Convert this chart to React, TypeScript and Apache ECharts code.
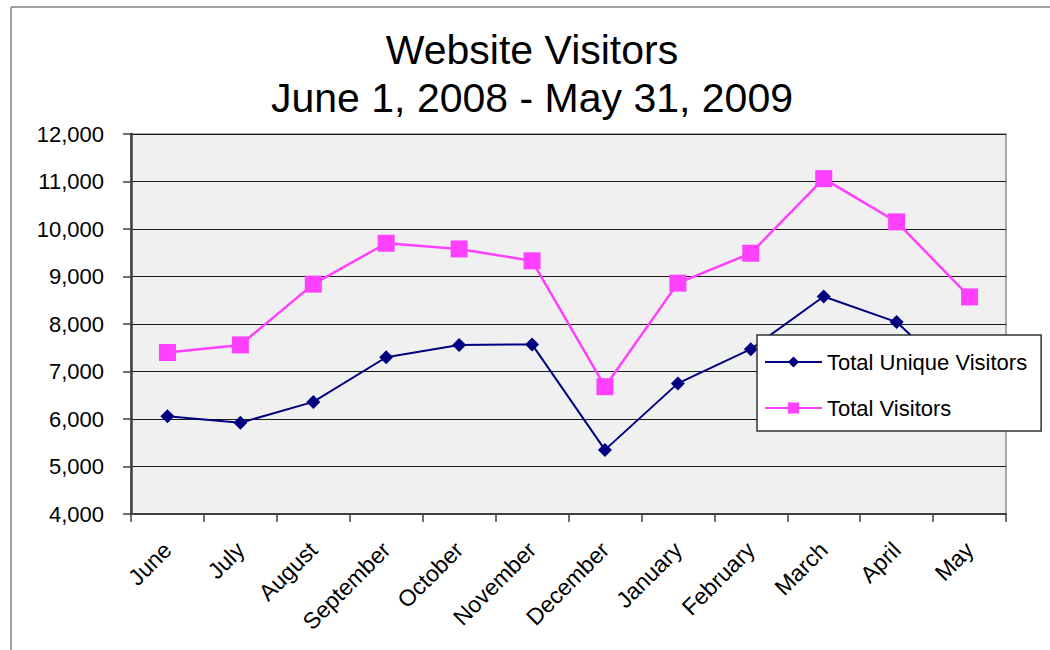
import React, { useEffect, useRef } from "react";
import * as echarts from "echarts";

const months = ["June", "July", "August", "September", "October", "November", "December", "January", "February", "March", "April", "May"];
const uniqueVisitors = [6060, 5920, 6360, 7300, 7560, 7570, 5350, 6750, 7470, 8580, 8040, 6600];
const totalVisitors = [7400, 7560, 8840, 9700, 9580, 9330, 6680, 8860, 9490, 11060, 10150, 8570];
const yTicks = { min: 4000, max: 12000, interval: 1000 };

const FONT = "'Liberation Sans', Arial, sans-serif";

export default function App() {
  const ref = useRef<HTMLDivElement>(null);
  useEffect(() => {
    if (!ref.current) return;
    const chart = echarts.init(ref.current, null, { renderer: "svg" });
    chart.setOption({
      animation: false,
      backgroundColor: "#ffffff",
      textStyle: { fontFamily: FONT },
      title: {
        text: "Website Visitors\nJune 1, 2008 - May 31, 2009",
        left: 527,
        textAlign: "center",
        top: 21,
        textStyle: { fontFamily: FONT, fontSize: 41, fontWeight: "normal", color: "#000", lineHeight: 48 },
      },
      graphic: [
        { type: "line", shape: { x1: 11, y1: 7, x2: 1050, y2: 7 }, style: { stroke: "#808080", lineWidth: 1.5 } },
        { type: "line", shape: { x1: 11, y1: 7, x2: 11, y2: 650 }, style: { stroke: "#808080", lineWidth: 1.5 } },
      ],
      grid: {
        left: 131,
        right: 44,
        top: 134,
        bottom: 136,
        show: true,
        backgroundColor: "#f0f0f0",
        borderColor: "#a8a8a8",
        borderWidth: 2,
      },
      legend: {
        orient: "vertical",
        left: 757,
        top: 335,
        backgroundColor: "#ffffff",
        borderColor: "#333333",
        borderWidth: 1.5,
        padding: [16, 14, 12, 7],
        itemWidth: 57,
        itemHeight: 14,
        itemGap: 24,
        textStyle: { fontFamily: FONT, fontSize: 22, color: "#000" },
        data: ["Total Unique Visitors", "Total Visitors"],
      },
      xAxis: {
        type: "category",
        data: months,
        boundaryGap: true,
        axisLine: { show: true, lineStyle: { color: "#404040", width: 2 } },
        axisTick: { show: true, alignWithLabel: false, length: 8, lineStyle: { color: "#404040", width: 1.5 } },
        axisLabel: { rotate: 45, margin: 32, fontSize: 23, color: "#000", fontFamily: FONT, interval: 0 },
        splitLine: { show: false },
      },
      yAxis: {
        type: "value",
        min: yTicks.min,
        max: yTicks.max,
        interval: yTicks.interval,
        axisLine: { show: true, lineStyle: { color: "#404040", width: 2.5 } },
        axisTick: { show: true, length: 8, lineStyle: { color: "#404040", width: 1.5 } },
        axisLabel: {
          margin: 27,
          fontSize: 22,
          color: "#000",
          fontFamily: FONT,
          formatter: (v: number) => v.toLocaleString("en-US"),
        },
        splitLine: { show: true, lineStyle: { color: "#1a1a1a", width: 1 } },
      },
      series: [
        {
          name: "Total Unique Visitors",
          type: "line",
          data: uniqueVisitors,
          symbol: "diamond",
          symbolSize: 14,
          color: "#000080",
          lineStyle: { color: "#000080", width: 2 },
          itemStyle: { color: "#000080" },
          z: 3,
        },
        {
          name: "Total Visitors",
          type: "line",
          data: totalVisitors,
          symbol: "rect",
          symbolSize: 17,
          color: "#ff40ff",
          lineStyle: { color: "#ff40ff", width: 2.5 },
          itemStyle: { color: "#ff40ff" },
          z: 2,
        },
      ],
    });
    return () => chart.dispose();
  }, []);
  return (
    <div
      ref={ref}
      style={{ position: "absolute", left: 0, top: 0, width: 1050, height: 650 }}
    />
  );
}
